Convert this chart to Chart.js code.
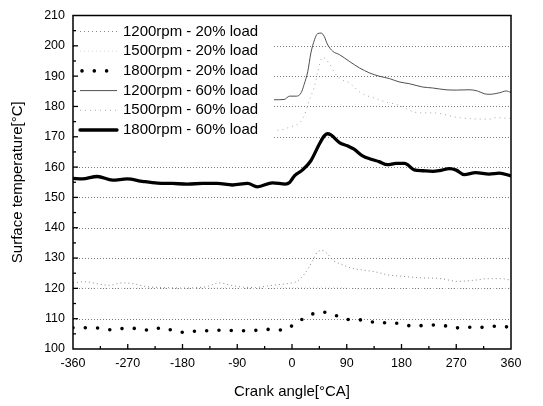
<!DOCTYPE html>
<html>
<head>
<meta charset="utf-8">
<script src="https://cdn.jsdelivr.net/npm/chart.js@4.4.1/dist/chart.umd.min.js"></script>
<style>
  html, body { margin: 0; padding: 0; background: #fff; }
  #wrap { position: relative; width: 543px; height: 406px; }
</style>
</head>
<body>
<div id="wrap"><canvas id="chart" width="543" height="406"></canvas></div>
<script>
// Crank angle [deg CA] and surface temperature [deg C].
const ang1200_20 = [-360, -340, -320, -300, -280, -260, -240, -220, -200, -180, -160, -140, -120, -100, -80, -60, -40, -20, 0, 9, 21, 28, 34, 42, 50, 58, 68, 83, 97, 118, 138, 156, 180, 210, 245, 272, 300, 322, 344, 360];
const temp1200_20 = [121.8, 122.2, 121.5, 121.0, 121.8, 121.5, 120.6, 120.3, 120.2, 120.1, 120.2, 120.6, 121.8, 121.0, 120.4, 120.3, 120.8, 121.3, 121.8, 122.4, 124.9, 127.0, 129.2, 132.0, 132.5, 131.4, 129.2, 127.8, 126.7, 126.0, 125.4, 124.5, 124.0, 123.5, 123.2, 122.3, 122.7, 123.2, 123.2, 122.7];

const ang1500_20 = [-360, -300, -240, -180, -120, -60, 0, 60, 120, 180, 240, 300, 360];
const temp1500_20 = [120.2, 120.0, 120.1, 119.9, 120.2, 119.9, 120.3, 120.4, 119.8, 120.0, 120.0, 119.8, 120.1];

const ang1800_20 = [-360, -336, -316, -295, -275, -254, -233, -213, -192, -172, -151, -139, -117, -96, -76, -55, -34, -13, 5, 27, 46, 67, 78, 99, 120, 141, 163, 183, 204, 225, 245, 266, 287, 300, 322, 342, 360];
const temp1800_20 = [107.0, 107.0, 106.9, 106.3, 106.8, 106.8, 106.1, 107.1, 105.8, 105.5, 106.1, 106.0, 106.2, 106.1, 106.0, 106.2, 106.5, 106.2, 108.4, 110.9, 112.2, 111.6, 110.5, 109.6, 109.6, 108.5, 108.8, 107.9, 107.6, 107.9, 107.9, 106.9, 107.3, 107.0, 107.3, 107.6, 107.0];

const ang1200_60 = [-32, -13, -4, 7, 15, 20, 26, 31, 37, 42, 48, 53, 58, 67, 78, 94, 111, 127, 143, 160, 176, 193, 215, 231, 253, 270, 291, 305, 316, 324, 341, 352, 360];
const temp1200_60 = [182.2, 182.3, 183.4, 183.4, 184.5, 187.3, 191.6, 197.6, 202.0, 204.0, 204.2, 203.1, 200.6, 198.2, 197.1, 194.9, 192.7, 191.1, 190.0, 189.2, 188.1, 187.5, 186.4, 186.1, 185.5, 185.4, 185.5, 185.1, 184.2, 184.0, 184.5, 185.1, 184.6];

const ang1500_60 = [-32, -13, -4, 9, 17, 23, 28, 37, 42, 50, 61, 70, 81, 94, 113, 138, 155, 171, 209, 231, 275, 324, 335, 360];
const temp1500_60 = [172.0, 172.5, 173.2, 174.1, 175.8, 178.5, 181.8, 186.7, 191.1, 196.2, 194.3, 191.1, 188.9, 187.8, 184.5, 182.6, 181.4, 180.7, 177.9, 177.9, 176.3, 175.8, 176.3, 176.0];

const ang1800_60 = [-360, -345, -320, -295, -271, -246, -221, -197, -172, -147, -123, -98, -73, -57, -32, -11, -4, 0, 4, 17, 31, 45, 53, 58, 64, 78, 91, 102, 116, 130, 143, 157, 171, 185, 201, 215, 231, 242, 259, 270, 283, 302, 324, 341, 360];
const temp1800_60 = [156.3, 156.1, 156.9, 155.7, 156.1, 155.3, 154.7, 154.6, 154.4, 154.6, 154.6, 154.1, 154.6, 153.5, 154.8, 154.4, 154.9, 156.0, 157.1, 159.0, 162.1, 167.6, 170.3, 171.0, 170.6, 168.1, 167.0, 165.9, 163.7, 162.6, 161.8, 160.8, 161.2, 161.2, 159.1, 158.8, 158.6, 158.8, 159.5, 159.0, 157.5, 158.2, 157.7, 158.0, 157.1];

const seriesLabels = ['1200rpm - 20% load', '1500rpm - 20% load', '1800rpm - 20% load', '1200rpm - 60% load', '1500rpm - 60% load', '1800rpm - 60% load'];
const xTicks = [-360, -270, -180, -90, 0, 90, 180, 270, 360];
const yTicks = [100, 110, 120, 130, 140, 150, 160, 170, 180, 190, 200, 210];
const gridValues = [110, 120, 130, 140, 150, 160, 170, 180, 190, 200];

const FONT = '"Liberation Sans", Arial, sans-serif';

function pts(xs, ys) {
  return xs.map((x, i) => ({ x, y: ys[i] }));
}

// line styles per series (scan look)
const styles = [
  { color: '#8a8a8a', width: 1, dash: [1, 3], cap: 'butt' },
  { color: '#d8d8d8', width: 1, dash: [1, 3], cap: 'butt' },
  { color: '#000000', width: 3.6, dash: [0, 12.3], cap: 'round' },
  { color: '#505050', width: 1, dash: [], cap: 'butt' },
  { color: '#a8a8a8', width: 1, dash: [1, 4], cap: 'butt' },
  { color: '#000000', width: 3.3, dash: [], cap: 'round' },
];

const dataSets = [
  pts(ang1200_20, temp1200_20),
  pts(ang1500_20, temp1500_20),
  pts(ang1800_20, temp1800_20),
  pts(ang1200_60, temp1200_60),
  pts(ang1500_60, temp1500_60),
  pts(ang1800_60, temp1800_60),
];

// grid, frame and inward ticks drawn from the scales
const framePlugin = {
  id: 'frame',
  beforeDatasetsDraw(chart) {
    const { ctx, chartArea: a, scales } = chart;
    ctx.save();
    ctx.strokeStyle = '#7a7a7a';
    ctx.lineWidth = 1;
    ctx.setLineDash([1, 2]);
    gridValues.forEach((v) => {
      const y = Math.round(scales.y.getPixelForValue(v)) + 0.5;
      ctx.beginPath();
      ctx.moveTo(a.left, y);
      ctx.lineTo(a.right, y);
      ctx.stroke();
    });
    ctx.restore();
  },
  afterDraw(chart) {
    const { ctx, chartArea: a, scales } = chart;
    ctx.save();
    ctx.strokeStyle = '#000';
    ctx.lineWidth = 1.5;
    ctx.strokeRect(a.left, a.top, a.right - a.left, a.bottom - a.top);
    ctx.lineWidth = 1.3;
    for (let v = 105; v < 210; v += 5) {
      const y = scales.y.getPixelForValue(v);
      const len = v % 10 === 0 ? 5 : 3;
      ctx.beginPath();
      ctx.moveTo(a.left, y);
      ctx.lineTo(a.left + len, y);
      ctx.stroke();
    }
    for (let v = -315; v < 360; v += 45) {
      const x = scales.x.getPixelForValue(v);
      const len = v % 90 === 0 ? 5 : 3;
      ctx.beginPath();
      ctx.moveTo(x, a.bottom);
      ctx.lineTo(x, a.bottom - len);
      ctx.stroke();
    }
    ctx.restore();
  },
};

// legend sits inside the plot on a white box
const legendPlugin = {
  id: 'boxLegend',
  afterDatasetsDraw(chart) {
    const { ctx, chartArea: a } = chart;
    const boxRight = 274;
    const boxBottom = 141;
    ctx.save();
    ctx.fillStyle = '#fff';
    ctx.fillRect(a.left + 1, a.top + 1, boxRight - a.left - 1, boxBottom - a.top - 1);
    ctx.font = `15px ${FONT}`;
    ctx.textBaseline = 'middle';
    ctx.fillStyle = '#000';
    seriesLabels.forEach((label, i) => {
      const y = 31.5 + i * 19.7;
      const st = styles[i];
      ctx.strokeStyle = st.color;
      ctx.lineWidth = st.width;
      ctx.lineCap = st.cap;
      ctx.setLineDash(st.dash);
      ctx.beginPath();
      if (i === 2) {
        ctx.moveTo(82, y);
        ctx.lineTo(110, y);
      } else {
        ctx.moveTo(80, y);
        ctx.lineTo(117, y);
      }
      ctx.stroke();
      ctx.setLineDash([]);
      ctx.fillText(label, 123, y);
    });
    ctx.restore();
  },
};

new Chart(document.getElementById('chart'), {
  type: 'line',
  data: {
    datasets: dataSets.map((d, i) => ({
      label: seriesLabels[i],
      data: d,
      borderColor: styles[i].color,
      borderWidth: styles[i].width,
      borderDash: styles[i].dash,
      borderCapStyle: styles[i].cap,
      borderJoinStyle: 'round',
      pointRadius: 0,
      fill: false,
      cubicInterpolationMode: 'monotone',
    })),
  },
  options: {
    responsive: false,
    animation: false,
    layout: { padding: { left: 0, top: 14, right: 32, bottom: 0 } },
    plugins: {
      legend: { display: false },
      tooltip: { enabled: false },
    },
    scales: {
      x: {
        type: 'linear',
        min: -360,
        max: 360,
        afterBuildTicks: (s) => { s.ticks = xTicks.map((v) => ({ value: v })); },
        afterFit: (s) => { s.height = 57; },
        grid: { display: false, drawTicks: false },
        border: { display: false },
        ticks: { color: '#000', padding: 7, maxRotation: 0, font: { family: FONT, size: 12.5 } },
        title: {
          display: true,
          text: 'Crank angle[°CA]',
          color: '#000',
          padding: { top: 0, bottom: 5 },
          font: { family: FONT, size: 15 },
        },
      },
      y: {
        min: 100,
        max: 210,
        afterBuildTicks: (s) => { s.ticks = yTicks.map((v) => ({ value: v })); },
        afterFit: (s) => { s.width = 73; },
        grid: { display: false, drawTicks: false },
        border: { display: false },
        ticks: { color: '#000', padding: 8, font: { family: FONT, size: 12.5 } },
        title: {
          display: true,
          text: 'Surface temperature[°C]',
          color: '#000',
          padding: { top: 9, bottom: 0 },
          font: { family: FONT, size: 15 },
        },
      },
    },
  },
  plugins: [framePlugin, legendPlugin],
});
</script>
</body>
</html>
